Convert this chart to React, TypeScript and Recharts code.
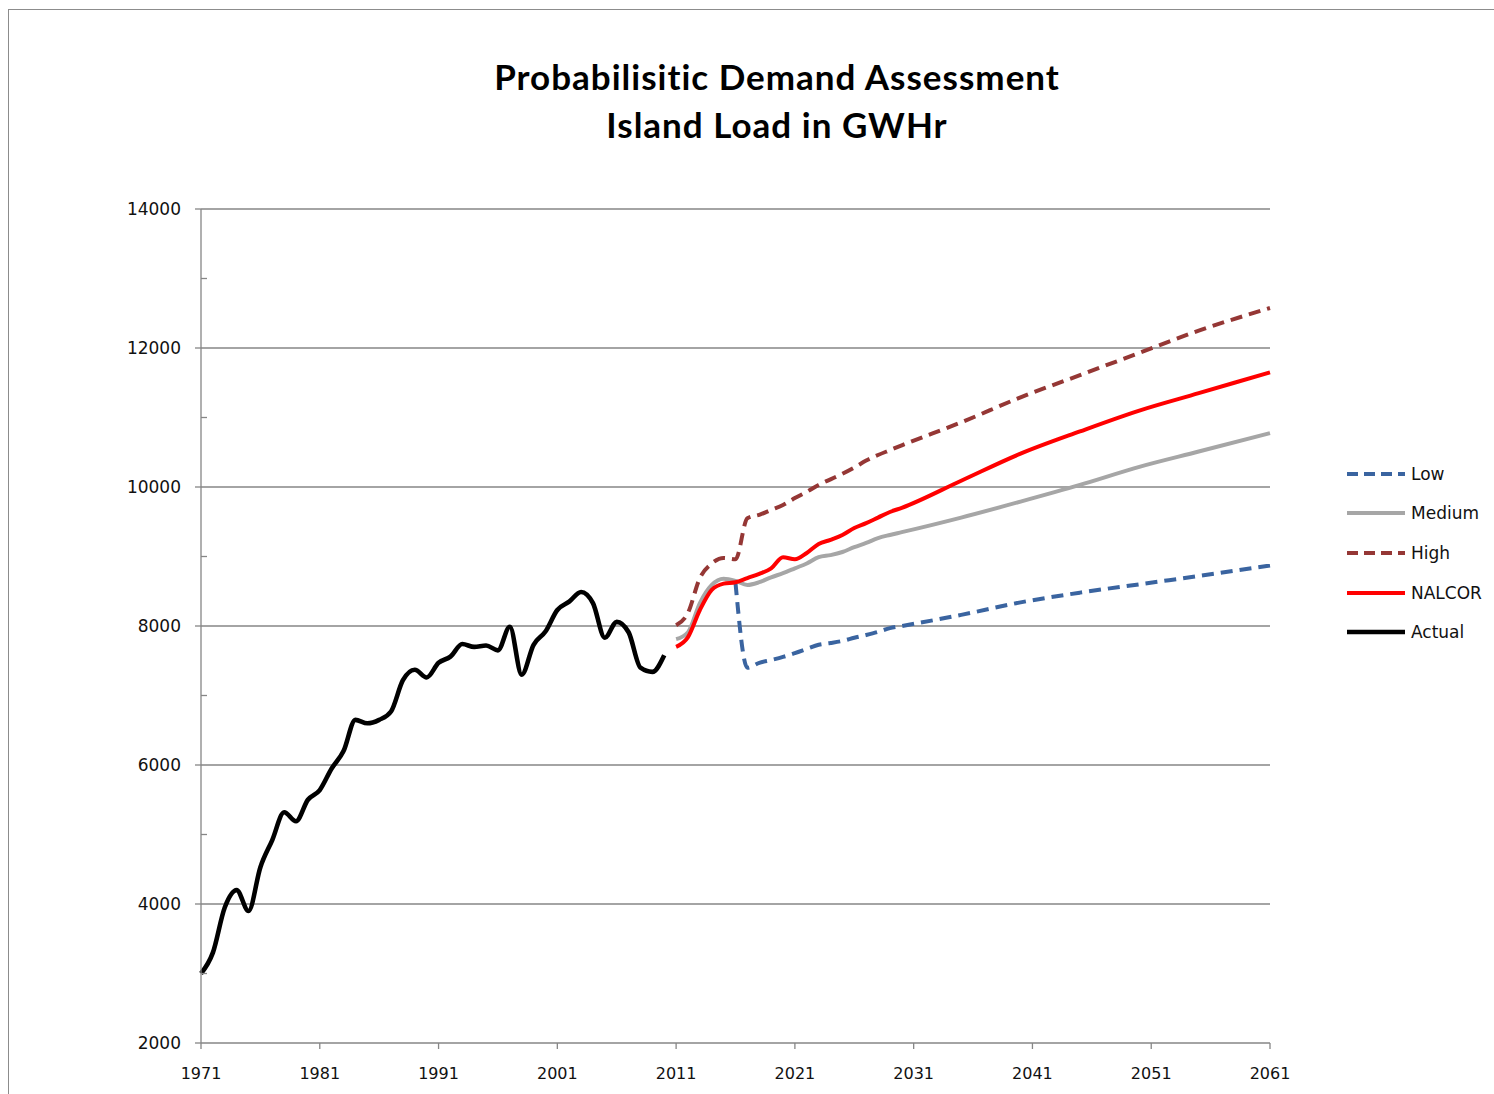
import React from 'react';
import { LineChart, Line, XAxis, YAxis, CartesianGrid } from 'recharts';

// Actual island load, GWh
const actualYears = [
  1971, 1972, 1973, 1974, 1975, 1976, 1977, 1978, 1979, 1980,
  1981, 1982, 1983, 1984, 1985, 1986, 1987, 1988, 1989, 1990,
  1991, 1992, 1993, 1994, 1995, 1996, 1997, 1998, 1999, 2000,
  2001, 2002, 2003, 2004, 2005, 2006, 2007, 2008, 2009, 2010,
];
const actualLoad = [
  3000, 3300, 3950, 4200, 3900, 4530, 4920, 5320, 5190, 5500,
  5640, 5950, 6200, 6650, 6600, 6650, 6770, 7220, 7370, 7260,
  7470, 7560, 7740, 7700, 7720, 7650, 7990, 7300, 7730, 7920,
  8230, 8350, 8490, 8330, 7830, 8060, 7910, 7400, 7340, 7580,
];

// Forecast cases
const projYears = [
  2011, 2012, 2013, 2014, 2015, 2016, 2017, 2018, 2019, 2020,
  2021, 2022, 2023, 2024, 2025, 2026, 2027, 2028, 2029, 2030,
  2035, 2040, 2045, 2050, 2055, 2061,
];
const nalcorLoad = [
  7700, 7840, 8230, 8520, 8610, 8630, 8690, 8750, 8830, 8990,
  8960, 9050, 9180, 9240, 9310, 9410, 9480, 9560, 9640, 9700,
  10090, 10480, 10800, 11100, 11350, 11650,
];
const mediumLoad = [
  7810, 7910, 8330, 8590, 8680, 8650, 8590, 8630, 8700, 8760,
  8830, 8900, 8990, 9020, 9065, 9135, 9195, 9265, 9310, 9350,
  9560, 9790, 10030, 10290, 10510, 10775,
];
const highLoad = [
  8010, 8190, 8690, 8900, 8980, 8960, 9550, 9600, 9670, 9740,
  9840, 9930, 10030, 10110, 10190, 10280, 10380, 10460, 10530, 10600,
  10930, 11290, 11610, 11930, 12250, 12575,
];
const lowYears = [
  2016, 2017, 2018, 2019, 2020, 2021, 2022, 2023, 2024, 2025,
  2026, 2027, 2028, 2029, 2030, 2035, 2040, 2045, 2050, 2055, 2061,
];
const lowLoad = [
  8620, 7400, 7470, 7510, 7555, 7610, 7670, 7730, 7755, 7785,
  7830, 7870, 7915, 7970, 8000, 8160, 8340, 8480, 8600, 8720, 8870,
];

const xTicks = [1971, 1981, 1991, 2001, 2011, 2021, 2031, 2041, 2051, 2061];
const yTicks = [2000, 3000, 4000, 5000, 6000, 7000, 8000, 9000, 10000, 11000, 12000, 13000, 14000];
const gridValues = [4000, 6000, 8000, 10000, 12000, 14000];

const series = [
  { key: 'Low', color: '#3a64a0', dash: '12 7', width: 4 },
  { key: 'Medium', color: '#a6a6a6', dash: undefined, width: 4 },
  { key: 'High', color: '#953735', dash: '12 7', width: 4 },
  { key: 'NALCOR', color: '#ff0000', dash: undefined, width: 4 },
  { key: 'Actual', color: '#000000', dash: undefined, width: 4.6 },
];

const rows = new Map<number, any>();
const put = (years: number[], values: number[], key: string) => {
  years.forEach((y, i) => {
    const r = rows.get(y) || { year: y };
    r[key] = values[i];
    rows.set(y, r);
  });
};
put(actualYears, actualLoad, 'Actual');
put(projYears, nalcorLoad, 'NALCOR');
put(projYears, mediumLoad, 'Medium');
put(projYears, highLoad, 'High');
put(lowYears, lowLoad, 'Low');
const chartData = [...rows.values()].sort((a, b) => a.year - b.year);

const axisGray = '#868686';

const YTick = (props: any) => {
  const { x, y, payload } = props;
  const v = payload.value;
  const major = v % 2000 === 0;
  return (
    <g>
      {major ? (
        <line x1={x + 14} x2={x + 20} y1={y} y2={y} stroke={axisGray} strokeWidth={1.3} />
      ) : (
        <line x1={x + 20} x2={x + 26} y1={y} y2={y} stroke={axisGray} strokeWidth={1.3} />
      )}
      {major && (
        <text x={x} y={y} dy="0.35em" textAnchor="end" fontSize={17} fontFamily="DejaVu Sans" fill="#111">
          {v}
        </text>
      )}
    </g>
  );
};

const LegendBox = () => (
  <div style={{ fontFamily: 'DejaVu Sans', fontSize: 17, color: '#111' }}>
    {series.map((s) => (
      <div key={s.key} style={{ display: 'flex', alignItems: 'center', height: 39.6 }}>
        <svg width={60} height={10} style={{ marginRight: 4 }}>
          <line x1={0} x2={58} y1={5} y2={5} stroke={s.color} strokeWidth={s.width} strokeDasharray={s.dash ? '11 6' : undefined} />
        </svg>
        <span>{s.key}</span>
      </div>
    ))}
  </div>
);

export default function App() {
  // fixed frame so that nothing spills past the 1494x1094 window
  return (
    <div style={{ position: 'fixed', left: 0, top: 0, width: 1494, height: 1094, overflow: 'hidden', background: '#fff' }}>
      <div
        style={{
          position: 'absolute',
          left: 8,
          top: 9,
          width: 1700,
          height: 1300,
          borderTop: '1px solid #8c8c8c',
          borderLeft: '1px solid #8c8c8c',
        }}
      />
      <div
        style={{
          position: 'absolute',
          left: 277,
          top: 52,
          width: 1000,
          textAlign: 'center',
          fontFamily: 'Lato',
          fontWeight: 700,
          fontSize: 35,
          letterSpacing: 1,
          lineHeight: '48px',
          color: '#000',
        }}
      >
        Probabilisitic Demand Assessment
        <br />
        Island Load in GWHr
      </div>
      <div style={{ position: 'absolute', left: 0, top: 0 }}>
        <LineChart
          width={1494}
          height={1094}
          data={chartData}
          margin={{ top: 209, right: 224, left: 121, bottom: 11 }}
        >
          <CartesianGrid horizontal vertical={false} horizontalValues={gridValues} stroke={axisGray} strokeWidth={1.3} />
          <XAxis
            dataKey="year"
            type="number"
            domain={[1971, 2061]}
            ticks={xTicks}
            interval={0}
            height={40}
            stroke={axisGray}
            strokeWidth={1.3}
            tickSize={6}
            tickMargin={19}
            tick={{ fill: '#111', fontSize: 16, fontFamily: 'DejaVu Sans' }}
          />
          <YAxis
            type="number"
            domain={[2000, 14000]}
            ticks={yTicks}
            interval={0}
            width={80}
            stroke={axisGray}
            strokeWidth={1.3}
            tickLine={false}
            tickSize={6}
            tickMargin={14}
            tick={<YTick />}
          />
          {series.map((s) => (
            <Line
              key={s.key}
              dataKey={s.key}
              type="monotone"
              stroke={s.color}
              strokeWidth={s.width}
              strokeDasharray={s.dash}
              dot={false}
              activeDot={false}
              connectNulls
              isAnimationActive={false}
            />
          ))}
        </LineChart>
      </div>
      <div style={{ position: 'absolute', left: 1347, top: 454 }}>
        <LegendBox />
      </div>
    </div>
  );
}
